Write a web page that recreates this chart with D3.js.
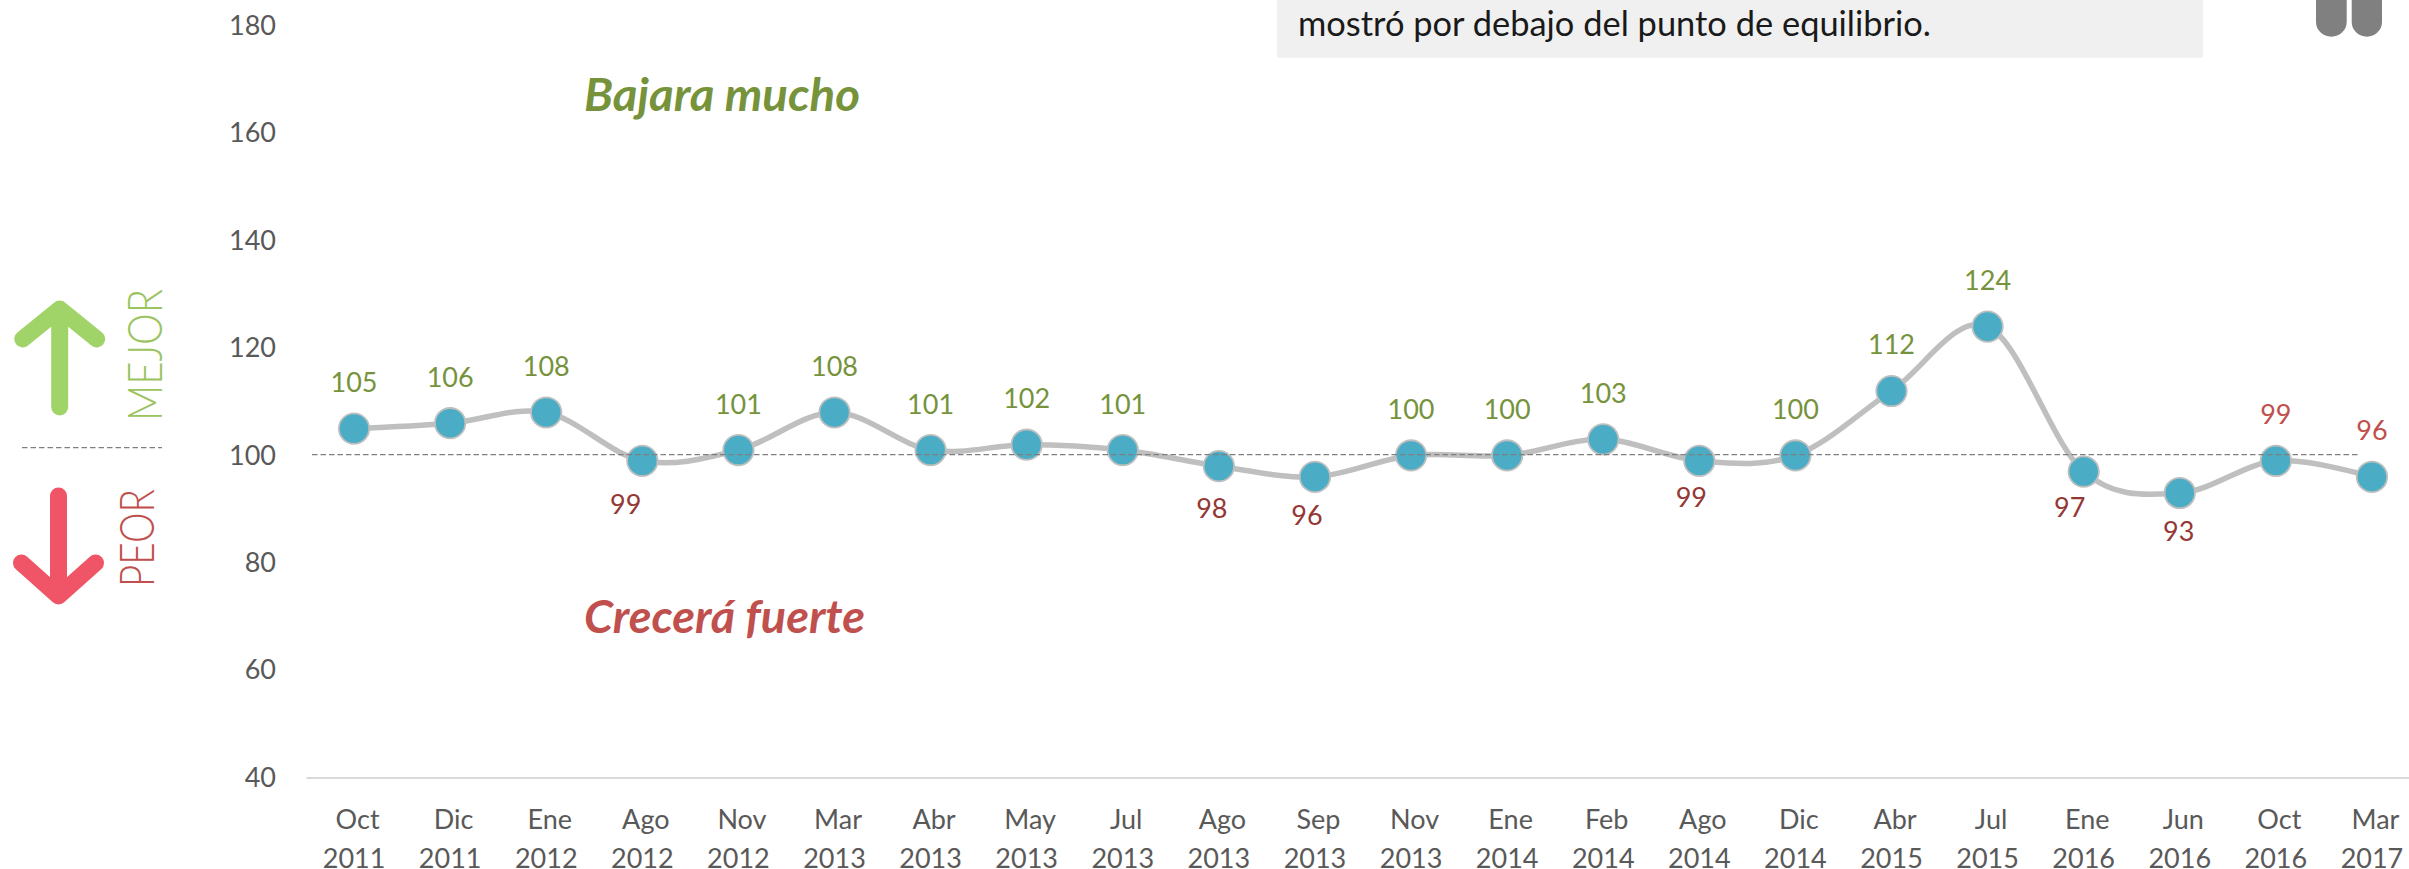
<!DOCTYPE html>
<html><head><meta charset="utf-8">
<script src="https://cdnjs.cloudflare.com/ajax/libs/d3/7.8.5/d3.min.js"></script>
<style>html,body{margin:0;padding:0;background:#fff;overflow:hidden}svg{display:block}text{font-family:Lato,"Noto Sans",sans-serif}</style>
</head><body><svg id="c" width="2409" height="869"></svg>
<script>
const months = ["Oct","Dic","Ene","Ago","Nov","Mar","Abr","May","Jul","Ago","Sep","Nov","Ene","Feb","Ago","Dic","Abr","Jul","Ene","Jun","Oct","Mar"];
const years = ["2011","2011","2012","2012","2012","2013","2013","2013","2013","2013","2013","2013","2014","2014","2014","2014","2015","2015","2016","2016","2016","2017"];
const values = [105,106,108,99,101,108,101,102,101,98,96,100,100,103,99,100,112,124,97,93,99,96];
const yTicks = [40,60,80,100,120,140,160,180];
const noteText = "mostró por debajo del punto de equilibrio.";

const GREEN="#76933C", DARKRED="#953735", RED="#C0504D";
const svg=d3.select("#c");
const keys=values.map((d,i)=>i);
const x=d3.scaleBand().domain(keys).range([306,2420]);
const y=d3.scaleLinear().domain([40,180]).range([777.5,26]);
const cx=i=>x(i)+x.bandwidth()/2;
const fit=(s,len)=>s.attr("textLength",len).attr("lengthAdjust","spacingAndGlyphs");

// note box
svg.append("rect").attr("x",1277).attr("y",-10).attr("width",926).attr("height",67.7).attr("fill","#F0F0F0");
fit(svg.append("text").attr("x",1298).attr("y",36).attr("font-size",35).attr("fill","#1a1a1a").text(noteText),633);

// quote glyph
[[2316,30.7],[2351.7,30.3]].forEach(([a,w])=>svg.append("rect").attr("x",a).attr("y",-40).attr("width",w).attr("height",76.7).attr("rx",w/2).attr("ry",15).attr("fill","#808080"));

// axes
const gy=svg.append("g").attr("transform","translate(276,0)").call(d3.axisLeft(y).tickValues(yTicks).tickSize(0).tickPadding(0));
gy.select(".domain").remove();
gy.selectAll("text").attr("font-size",27).attr("fill","#595959").style("font-family","Lato");

const gx=svg.append("g").attr("transform","translate(0,777.5)").call(d3.axisBottom(x).tickSize(0).tickFormat(""));
gx.select(".domain").attr("stroke","#D9D9D9").attr("stroke-width",2);
gx.selectAll(".tick text").each(function(d){
  const t=d3.select(this).attr("y",null).attr("dy",null).attr("font-size",27).attr("fill","#595959").style("font-family","Lato");
  t.append("tspan").attr("x",3.5).attr("y",51.5).text(months[d]);
  t.append("tspan").attr("x",0).attr("y",90.5).text(years[d]);
});

// line
const line=d3.line().x((d,i)=>cx(i)).y(d=>y(d)).curve(d3.curveCatmullRom.alpha(0));
svg.append("path").datum(values).attr("d",line).attr("fill","none").attr("stroke","#BFBFBF").attr("stroke-width",5.5).attr("stroke-linecap","round");

// markers
svg.append("g").selectAll("circle").data(values).join("circle")
  .attr("cx",(d,i)=>cx(i)).attr("cy",d=>y(d)).attr("r",15.2).attr("fill","#4BACC6").attr("stroke","#BFBFBF").attr("stroke-width",1.8);

// reference dashes
const dash=(a,b,yy)=>svg.append("line").attr("x1",a).attr("x2",b).attr("y1",yy).attr("y2",yy).attr("stroke","#7F7F7F").attr("stroke-width",1.25).attr("stroke-dasharray","5.5 3");
dash(312,2360,y(100)-0.8);
dash(22,162,447.6);

// data labels: manual nudges for labels placed under their points
const below={3:[-16.6,44],9:[-7,42],10:[-8,39],14:[-8,37],18:[-14,36],19:[-1,39]};
svg.append("g").selectAll("text").data(values).join("text")
  .attr("x",(d,i)=>cx(i)+(below[i]?below[i][0]:0))
  .attr("y",(d,i)=>y(d)+(below[i]?below[i][1]:-46))
  .attr("dy","0.35em").attr("text-anchor","middle").attr("font-size",27)
  .attr("fill",(d,i)=>below[i]?DARKRED:(d<100?RED:GREEN)).text(d=>d);

// annotations
fit(svg.append("text").attr("x",584).attr("y",111).attr("font-size",45).attr("font-weight",700).attr("font-style","italic").attr("fill",GREEN).text("Bajara mucho"),276);
fit(svg.append("text").attr("x",584).attr("y",633).attr("font-size",45).attr("font-weight",700).attr("font-style","italic").attr("fill",RED).text("Crecerá fuerte"),281);

// side arrows
const arrow=(xc,from,to,wing,half,col)=>{
  const p=d3.path();p.moveTo(xc,from);p.lineTo(xc,to);
  p.moveTo(xc-half,wing);p.lineTo(xc,to);p.lineTo(xc+half,wing);
  svg.append("path").attr("d",p.toString()).attr("fill","none").attr("stroke",col).attr("stroke-width",17).attr("stroke-linecap","round").attr("stroke-linejoin","round");
};
arrow(59.7,407,309,339,37,"#A0D468");
arrow(58.5,496,596,563,37,"#EF5566");
const vert=(xx,yy,txt,col,len)=>fit(svg.append("text").attr("transform",`translate(${xx},${yy}) rotate(-90)`).attr("font-size",47).attr("font-weight",300).attr("fill",col).text(txt),len);
vert(162,421,"MEJOR","#9BC45F",132);
vert(154,587,"PEOR",RED,98);
</script></body></html>
